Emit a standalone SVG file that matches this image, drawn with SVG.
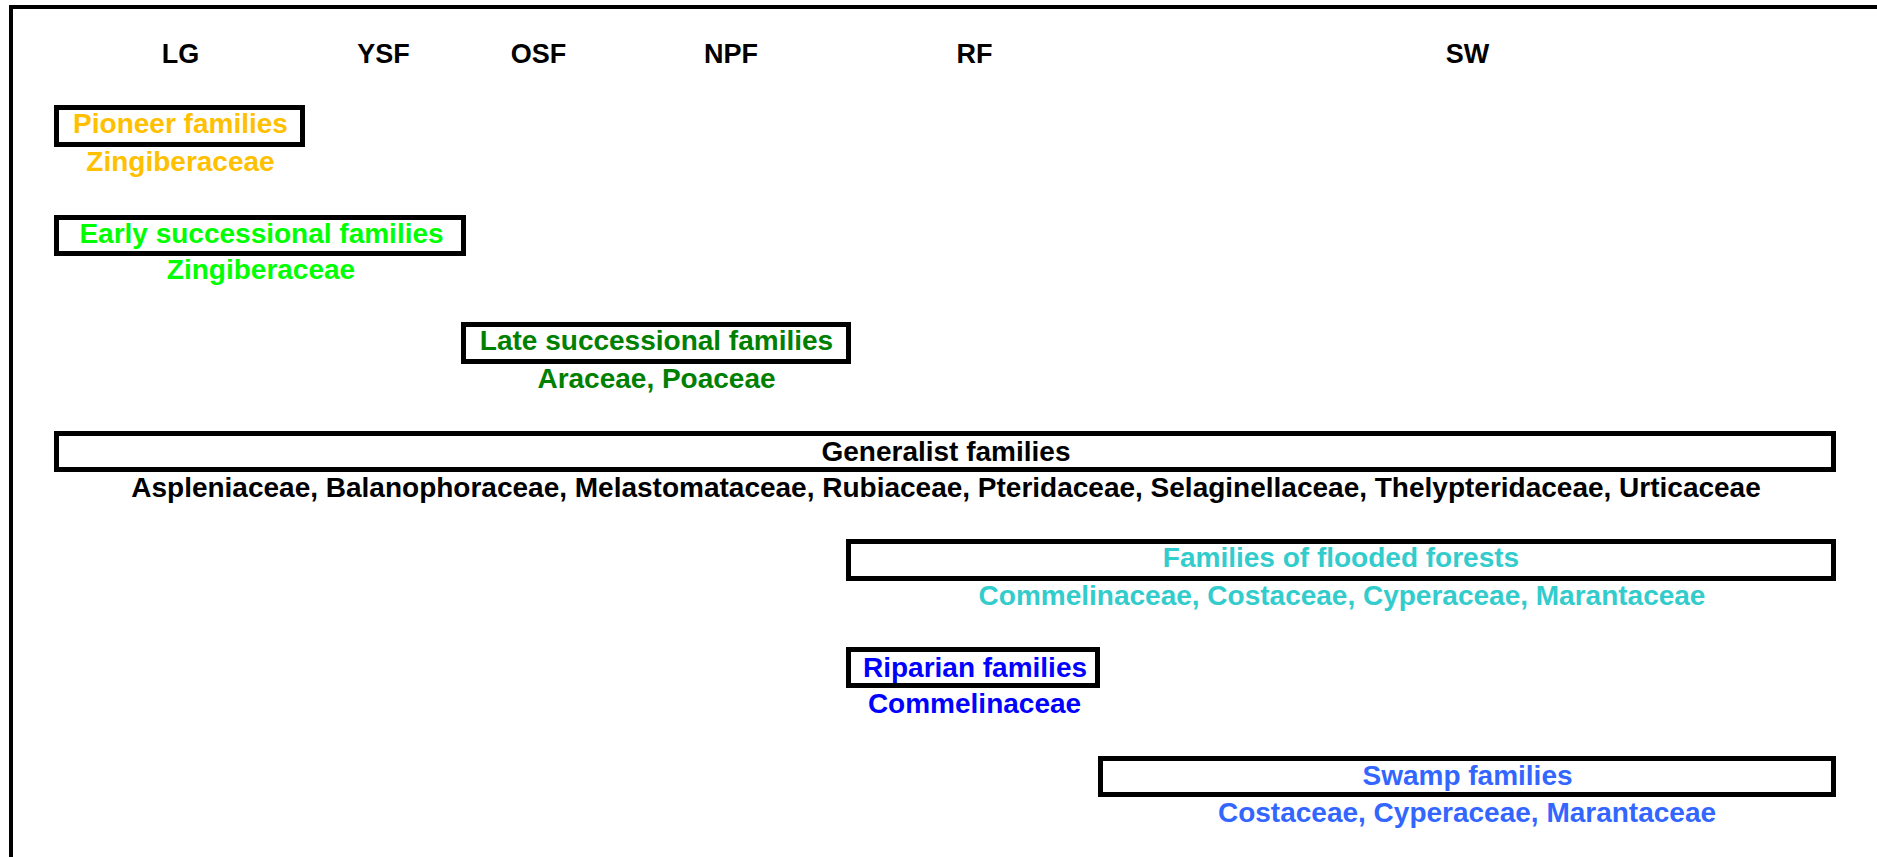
<svg xmlns="http://www.w3.org/2000/svg" width="1877" height="857" viewBox="0 0 1877 857">
<style>
text{font-family:"Liberation Sans",Arial,sans-serif;font-weight:bold;text-anchor:middle}
.hdr{font-size:27px;fill:#000}
.t{font-size:28px}
.box{fill:#fff;stroke:#000;stroke-width:5}
.pio{fill:#FFC000}
.early{fill:#00FF00}
.late{fill:#008000}
.gen{fill:#000}
.fl{fill:#33CCCC}
.rip{fill:#0000FF}
.sw{fill:#3366FF}
</style>
<rect x="0" y="0" width="1877" height="857" fill="#fff"/>
<g id="frame" stroke="#000" stroke-width="4" fill="none">
<line x1="9" y1="7" x2="1877" y2="7"/>
<line x1="11" y1="5" x2="11" y2="857"/>
</g>
<g id="headers">
<text class="hdr" x="180.5" y="63">LG</text>
<text class="hdr" x="383.5" y="63">YSF</text>
<text class="hdr" x="538.5" y="63">OSF</text>
<text class="hdr" x="731" y="63">NPF</text>
<text class="hdr" x="974.5" y="63">RF</text>
<text class="hdr" x="1467.5" y="63">SW</text>
</g>
<g id="connectors"/>
<g id="pioneer">
<rect class="box" x="56.5" y="107.5" width="246" height="37"/>
<text class="t pio" x="180.5" y="133">Pioneer families</text>
<text class="t pio" x="180.5" y="171">Zingiberaceae</text>
</g>
<g id="early">
<rect class="box" x="56.5" y="217.5" width="407" height="36"/>
<text class="t early" x="261.5" y="243">Early successional families</text>
<text class="t early" x="261" y="279">Zingiberaceae</text>
</g>
<g id="late">
<rect class="box" x="463.5" y="324.5" width="385" height="37"/>
<text class="t late" x="656.5" y="350">Late successional families</text>
<text class="t late" x="656.5" y="388">Araceae, Poaceae</text>
</g>
<g id="generalist">
<rect class="box" x="56.5" y="433.5" width="1777" height="36"/>
<text class="t gen" x="946" y="461">Generalist families</text>
<text class="t gen" x="946" y="497">Aspleniaceae, Balanophoraceae, Melastomataceae, Rubiaceae, Pteridaceae, Selaginellaceae, Thelypteridaceae, Urticaceae</text>
</g>
<g id="flooded">
<rect class="box" x="848.5" y="541.5" width="985" height="37"/>
<text class="t fl" x="1341" y="567">Families of flooded forests</text>
<text class="t fl" x="1342" y="605">Commelinaceae, Costaceae, Cyperaceae, Marantaceae</text>
</g>
<g id="riparian">
<rect class="box" x="848.5" y="649.5" width="249" height="36"/>
<text class="t rip" x="975" y="677">Riparian families</text>
<text class="t rip" x="974.5" y="713">Commelinaceae</text>
</g>
<g id="swamp">
<rect class="box" x="1100.5" y="758.5" width="733" height="36"/>
<text class="t sw" x="1467.5" y="785">Swamp families</text>
<text class="t sw" x="1467" y="822">Costaceae, Cyperaceae, Marantaceae</text>
</g>
</svg>
